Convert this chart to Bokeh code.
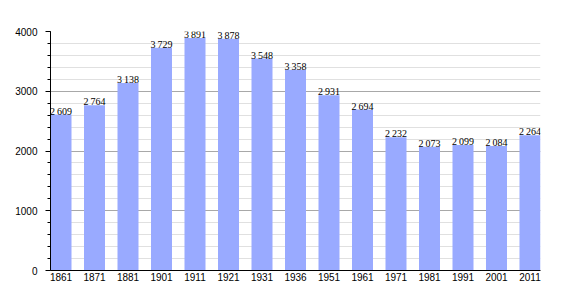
from bokeh.plotting import figure
from bokeh.models import ColumnDataSource, Range1d, FixedTicker, SingleIntervalTicker, LabelSet
from bokeh.embed import file_html
from bokeh.resources import INLINE

years = ["1861", "1871", "1881", "1901", "1911", "1921", "1931", "1936", "1951",
         "1961", "1971", "1981", "1991", "2001", "2011"]
population = [2609, 2764, 3138, 3729, 3891, 3878, 3548, 3358, 2931,
              2694, 2232, 2073, 2099, 2084, 2264]

xs = list(range(len(years)))
labels = [f"{v // 1000}\u2009{v % 1000:03d}" for v in population]
src = ColumnDataSource(dict(x=xs, top=population, label=labels))

bw = 0.627
p = figure(width=570, height=300, output_backend="svg", toolbar_location=None,
           x_range=Range1d(-bw / 2, len(years) - 1 + bw / 2), y_range=Range1d(0, 4000),
           min_border_left=50, min_border_right=30, min_border_top=31, min_border_bottom=30)
p.outline_line_color = None
p.background_fill_color = "white"

p.vbar(x="x", top="top", width=bw, source=src, fill_color="#99aaff", line_color=None)
lbl = LabelSet(x="x", y="top", text="label", source=src, text_align="center",
               text_baseline="alphabetic", text_font="Liberation Sans", text_font_size="10px",
               text_color="black", y_offset=0)
p.add_layout(lbl)

p.xgrid.visible = False
p.ygrid.ticker = SingleIntervalTicker(interval=1000, num_minor_ticks=5)
p.ygrid.grid_line_color = "#a8a8a8"
p.ygrid.minor_grid_line_color = "#e0e0e0"
p.ygrid.level = "underlay"

ya = p.yaxis[0]
ya.ticker = SingleIntervalTicker(interval=1000, num_minor_ticks=5)
ya.axis_line_color = "black"
ya.major_tick_in = 0
ya.major_tick_out = 5
ya.minor_tick_in = 0
ya.minor_tick_out = 3
ya.major_label_text_font = "Liberation Sans"
ya.major_label_text_font_size = "10px"
ya.major_label_text_color = "black"
ya.major_label_standoff = 8

xa = p.xaxis[0]
xa.ticker = FixedTicker(ticks=xs)
xa.major_label_overrides = {i: y for i, y in enumerate(years)}
xa.axis_line_color = "black"
xa.major_tick_in = 0
xa.major_tick_out = 0
xa.minor_tick_out = 0
xa.major_label_text_font = "Liberation Sans"
xa.major_label_text_font_size = "10px"
xa.major_label_text_color = "black"
xa.major_label_standoff = 2

open("out.html", "w").write(file_html(p, INLINE))
